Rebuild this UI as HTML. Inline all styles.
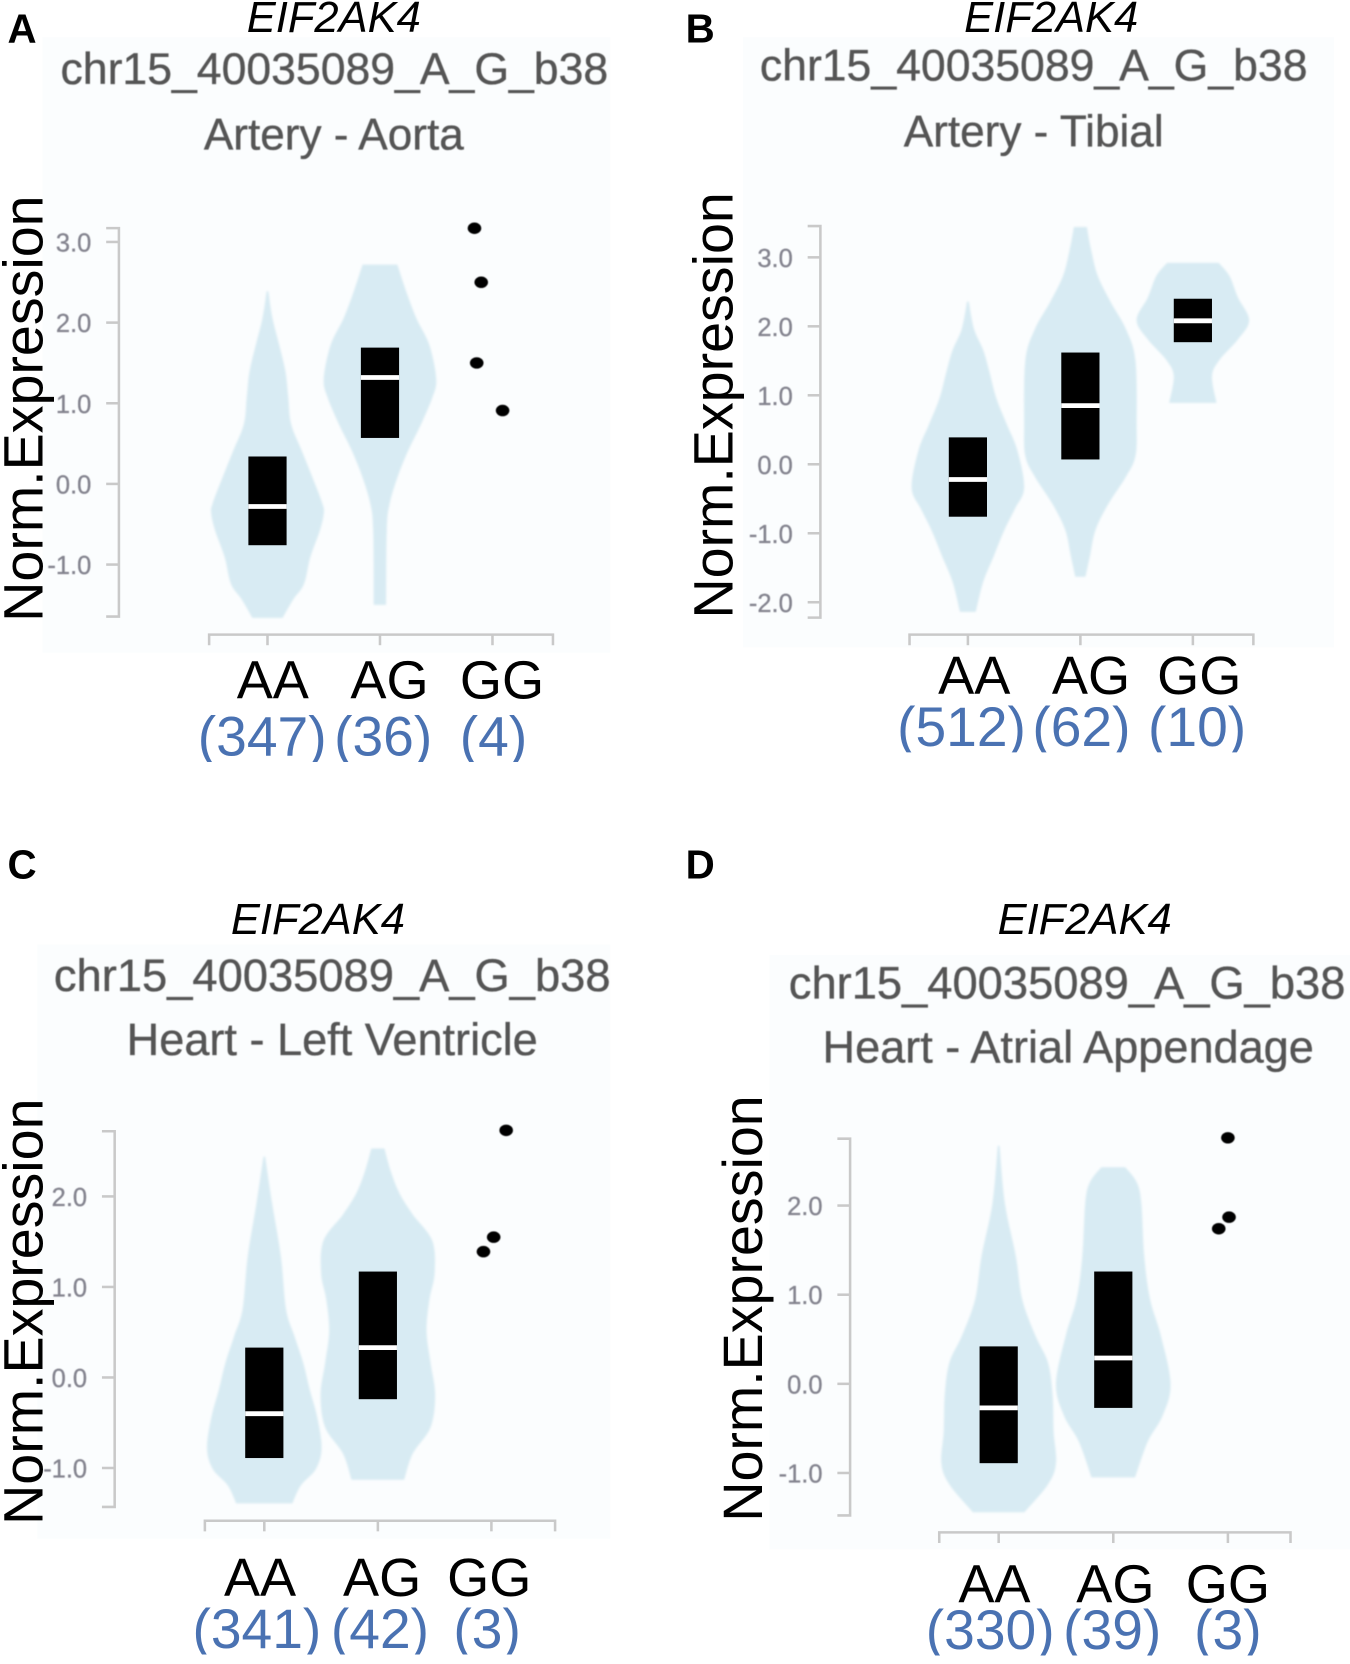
<!DOCTYPE html>
<html lang="en">
<head>
<meta charset="utf-8">
<title>EIF2AK4 expression by genotype</title>
<style>
html,body{margin:0;padding:0;background:#fff;width:1350px;height:1664px;overflow:hidden}
svg{display:block;font-family:"Liberation Sans",Arial,sans-serif}
.gene{font-size:41px;font-style:italic;text-anchor:middle;fill:#000}
.snp{font-size:42px;text-anchor:middle;fill:#555;stroke:#555;stroke-width:.35px;filter:url(#soft)}
.snp.wide{font-size:42.7px}
.tissue{font-size:41.6px;text-anchor:middle;fill:#555;stroke:#555;stroke-width:.35px;filter:url(#soft)}
.tissue.wide{font-size:42.5px}
.letter{font-size:38px;font-weight:bold;fill:#000}
.ylab{font-size:52.4px;text-anchor:middle;fill:#000}
.tick{font-size:24px;text-anchor:end;fill:#84848f;stroke:#84848f;stroke-width:.3px;filter:url(#soft)}
.cat{font-size:51px;text-anchor:middle;fill:#000}
.count{font-size:52px;text-anchor:middle;fill:#4a72b2}
</style>
</head>
<body>
<svg id="figure" xmlns="http://www.w3.org/2000/svg" width="1350" height="1664" viewBox="0 0 1272 1568">
  <defs>
    <filter id="soft" x="-5%" y="-5%" width="110%" height="110%"><feGaussianBlur stdDeviation="0.6"/></filter>
    <filter id="violinSoft" x="-5%" y="-5%" width="110%" height="110%"><feGaussianBlur stdDeviation="0.9"/></filter>
    <filter id="dotSoft" x="-30%" y="-30%" width="160%" height="160%"><feGaussianBlur stdDeviation="0.5"/></filter>
  </defs>
  <rect width="1272" height="1568" fill="#fff"/>

  <g id="panel-a">
    <rect x="40" y="35" width="535" height="580" fill="#fbfdfe"/>
    <text class="letter" x="7" y="40">A</text>
    <text class="gene" x="314.5" y="30">EIF2AK4</text>
    <text class="snp" x="315" y="79">chr15_40035089_A_G_b38</text>
    <text class="tissue" x="314.5" y="141">Artery - Aorta</text>
    <text class="ylab" transform="translate(40 385) rotate(-90)">Norm.Expression</text>
  </g>

  <g id="panel-b">
    <rect x="700" y="35" width="557" height="575" fill="#fbfdfe"/>
    <text class="letter" x="646" y="40">B</text>
    <text class="gene" x="990.5" y="30">EIF2AK4</text>
    <text class="snp" x="974" y="76">chr15_40035089_A_G_b38</text>
    <text class="tissue" x="974" y="138">Artery - Tibial</text>
    <text class="ylab" transform="translate(690 382) rotate(-90)">Norm.Expression</text>
  </g>

  <g id="panel-c">
    <rect x="35" y="890" width="540" height="560" fill="#fbfdfe"/>
    <text class="letter" x="7" y="828">C</text>
    <text class="gene" x="299.5" y="880">EIF2AK4</text>
    <text class="snp wide" x="313" y="934">chr15_40035089_A_G_b38</text>
    <text class="tissue wide" x="313" y="994">Heart - Left Ventricle</text>
    <text class="ylab" transform="translate(40 1236) rotate(-90)">Norm.Expression</text>
  </g>

  <g id="panel-d">
    <rect x="725" y="900" width="547" height="560" fill="#fbfdfe"/>
    <text class="letter" x="646" y="828">D</text>
    <text class="gene" x="1022" y="880">EIF2AK4</text>
    <text class="snp wide" x="1005.5" y="941">chr15_40035089_A_G_b38</text>
    <text class="tissue wide" x="1006.5" y="1001">Heart - Atrial Appendage</text>
    <text class="ylab" transform="translate(718 1233) rotate(-90)">Norm.Expression</text>
  </g>
</svg>

<script>
const categories = ["AA", "AG", "GG"];

/* Panel A: Artery - Aorta */
const aTicks = [3, 2, 1, 0, -1];
const aCounts = ["(347)", "(36)", "(4)"];
const aAAExpr = [2.39, 2.05, 1.72, 1.39, 1.07, 0.74, 0.41, 0.08, -0.25, -0.37, -0.58, -0.91, -1.24, -1.43, -1.66];
const aAADensity = [0.015, 0.09, 0.21, 0.32, 0.37, 0.42, 0.61, 0.80, 0.98, 1, 0.93, 0.76, 0.65, 0.46, 0.27];
const aAGExpr = [2.72, 2.38, 2.05, 1.72, 1.30, 1.07, 0.74, 0.41, 0.08, -0.25, -0.58, -1.5];
const aAGDensity = [0.31, 0.47, 0.65, 0.88, 1, 0.93, 0.73, 0.5, 0.31, 0.17, 0.12, 0.11];
const aQ1 = [-0.76, 0.57];
const aMedian = [-0.28, 1.32];
const aQ3 = [0.34, 1.69];
const aPoints = [3.17, 2.5, 1.5, 0.91];
const aJitter = [-0.16, -0.10, -0.14, 0.09];

/* Panel B: Artery - Tibial */
const bTicks = [3, 2, 1, 0, -1, -2];
const bCounts = ["(512)", "(62)", "(10)"];
const bAAExpr = [2.36, 1.96, 1.66, 1.35, 0.97, 0.58, 0.2, -0.34, -0.64, -0.95, -1.33, -1.71, -2.14];
const bAADensity = [0.015, 0.11, 0.27, 0.38, 0.5, 0.69, 0.88, 1, 0.84, 0.65, 0.46, 0.27, 0.14];
const bAGExpr = [3.44, 3.11, 2.73, 2.35, 1.96, 1.5, 0.58, 0.12, -0.18, -0.57, -0.95, -1.33, -1.63];
const bAGDensity = [0.115, 0.19, 0.31, 0.54, 0.81, 0.98, 1, 0.98, 0.81, 0.5, 0.27, 0.17, 0.09];
const bGGExpr = [2.92, 2.73, 2.42, 2.09, 1.81, 1.5, 1.27, 0.89];
const bGGDensity = [0.46, 0.65, 0.8, 1, 0.8, 0.46, 0.34, 0.42];
const bQ1 = [-0.76, 0.07, 1.77];
const bMedian = [-0.22, 0.85, 2.08];
const bQ3 = [0.39, 1.62, 2.4];

/* Panel C: Heart - Left Ventricle */
const cTicks = [2, 1, 0, -1];
const cCounts = ["(341)", "(42)", "(3)"];
const cAAExpr = [2.44, 1.93, 1.33, 0.75, 0.45, 0.16, -0.13, -0.43, -0.78, -1.01, -1.19, -1.39];
const cAADensity = [0.015, 0.135, 0.29, 0.38, 0.53, 0.68, 0.79, 0.92, 1, 0.9, 0.64, 0.49];
const cAGExpr = [2.53, 2.27, 2.03, 1.8, 1.51, 1.15, 0.86, 0.51, 0.16, -0.19, -0.55, -0.84, -1.13];
const cAGDensity = [0.115, 0.23, 0.38, 0.61, 0.95, 0.99, 0.9, 0.85, 0.92, 1, 0.92, 0.61, 0.46];
const cQ1 = [-0.89, -0.24];
const cMedian = [-0.4, 0.33];
const cQ3 = [0.33, 1.17];
const cPoints = [2.73, 1.55, 1.39];
const cJitter = [0.13, 0.02, -0.07];

/* Panel D: Heart - Atrial Appendage */
const dTicks = [2, 1, 0, -1];
const dCounts = ["(330)", "(39)", "(3)"];
const dAAExpr = [2.67, 2.02, 1.43, 0.95, 0.54, 0.24, -0.12, -0.54, -0.89, -1.13, -1.44];
const dAADensity = [0.015, 0.11, 0.3, 0.41, 0.64, 0.86, 0.94, 0.96, 1, 0.86, 0.45];
const dAGExpr = [2.43, 2.26, 2.02, 1.43, 0.95, 0.54, 0, -0.36, -0.65, -1.05];
const dAGDensity = [0.21, 0.41, 0.49, 0.54, 0.64, 0.83, 1, 0.86, 0.6, 0.38];
const dQ1 = [-0.89, -0.27];
const dMedian = [-0.27, 0.29];
const dQ3 = [0.42, 1.26];
const dPoints = [2.76, 1.87, 1.74];
const dJitter = [0, 0.01, -0.08];

const NS = "http://www.w3.org/2000/svg";
const AXIS = "#c9c9c9";
const VIOLIN = "#d8ebf3";

function mk(tag, attrs, parent) {
  const el = document.createElementNS(NS, tag);
  for (const k in attrs) el.setAttribute(k, attrs[k]);
  parent.appendChild(el);
  return el;
}

/* Smooth curve through a list of [x, y] pairs (Catmull-Rom to Bezier). */
function smoothSegment(p) {
  let d = "";
  for (let i = 0; i < p.length - 1; i++) {
    const a = p[Math.max(i - 1, 0)], b = p[i], c = p[i + 1], e = p[Math.min(i + 2, p.length - 1)];
    const c1x = b[0] + (c[0] - a[0]) / 6, c1y = b[1] + (c[1] - a[1]) / 6;
    const c2x = c[0] - (e[0] - b[0]) / 6, c2y = c[1] - (e[1] - b[1]) / 6;
    d += "C" + c1x.toFixed(1) + " " + c1y.toFixed(1) + " " + c2x.toFixed(1) + " " + c2y.toFixed(1) + " " + c[0].toFixed(1) + " " + c[1].toFixed(1);
  }
  return d;
}

function drawPanel(cfg) {
  const g = document.getElementById("panel-" + cfg.id);
  const y = v => cfg.y0 - v * cfg.unit;
  const x = i => cfg.x0 + i * cfg.step;

  const yAxis = mk("path", {
    d: "M" + (cfg.axisX - 12) + " " + cfg.axisTop + "H" + cfg.axisX + "V" + cfg.axisBottom + "H" + (cfg.axisX - 12),
    fill: "none", stroke: AXIS, "stroke-width": 2.4
  }, g);
  
  

  cfg.ticks.forEach(t => {
    const tm = mk("line", { x1: cfg.axisX - 12, x2: cfg.axisX, y1: y(t), y2: y(t), stroke: AXIS, "stroke-width": 2.4 }, g);
    
    
    const lb = mk("text", { class: "tick", x: cfg.axisX - 26, y: y(t) + 9 }, g);
    
    
    lb.textContent = t.toFixed(1);
  });

  const xAxis = mk("path", {
    d: "M" + cfg.xStart + " " + (cfg.xAxisY + 10) + "V" + cfg.xAxisY + "H" + cfg.xEnd + "V" + (cfg.xAxisY + 10),
    fill: "none", stroke: AXIS, "stroke-width": 2.4
  }, g);
  
  

  const clipId = "clip-" + cfg.id;
  const clip = mk("clipPath", { id: clipId }, g);
  mk("rect", { x: 0, y: cfg.countBase - 90, width: 1272, height: 96 }, clip);

  categories.forEach((c, i) => {
    const tm = mk("line", { x1: x(i), x2: x(i), y1: cfg.xAxisY, y2: cfg.xAxisY + 10, stroke: AXIS, "stroke-width": 2.4 }, g);
    
    
    const lb = mk("text", { class: "cat", x: x(i) + cfg.catOffset[i], y: cfg.catBase }, g);
    
    
    lb.textContent = c;
    const ct = mk("text", { class: "count", x: x(i) + cfg.countOffset[i], y: cfg.countBase, "clip-path": "url(#" + clipId + ")" }, g);
    
    
    ct.textContent = cfg.counts[i];
  });

  cfg.violins.forEach(vi => {
    const cx = x(vi.cat);
    const right = vi.expr.map((v, k) => [cx + vi.density[k] * cfg.halfWidth, y(v)]);
    const left = vi.expr.map((v, k) => [cx - vi.density[k] * cfg.halfWidth, y(v)]).reverse();
    const d = "M" + right[0][0].toFixed(1) + " " + right[0][1].toFixed(1) + smoothSegment(right) +
      "L" + left[0][0].toFixed(1) + " " + left[0][1].toFixed(1) + smoothSegment(left) + "Z";
    const shape = mk("path", { d: d, fill: VIOLIN, filter: "url(#violinSoft)" }, g);
    
    
  });

  cfg.q1.forEach((q, i) => {
    const box = mk("rect", { x: x(i) - 18, y: y(cfg.q3[i]), width: 36, height: y(q) - y(cfg.q3[i]), fill: "#000" }, g);
    
    
    const med = mk("line", { x1: x(i) - 18, x2: x(i) + 18, y1: y(cfg.median[i]), y2: y(cfg.median[i]), stroke: "#fff", "stroke-width": 4.5 }, g);
    
    
  });

  cfg.points.forEach((p, i) => {
    const dot = mk("ellipse", { cx: x(2) + cfg.jitter[i] * cfg.step, cy: y(p), rx: 6.4, ry: 5.4, fill: "#000", filter: "url(#dotSoft)" }, g);
    
    
  });
}

drawPanel({
  id: "a", y0: 456, unit: 76, x0: 252, step: 106, halfWidth: 53,
  axisX: 112, axisTop: 215, axisBottom: 581, xAxisY: 598, xStart: 197, xEnd: 521,
  catBase: 658, countBase: 712, catOffset: [5, 9, 9], countOffset: [-5, 3, 1],
  ticks: aTicks, counts: aCounts,
  violins: [{ cat: 0, expr: aAAExpr, density: aAADensity }, { cat: 1, expr: aAGExpr, density: aAGDensity }],
  q1: aQ1, median: aMedian, q3: aQ3, points: aPoints, jitter: aJitter
});
drawPanel({
  id: "b", y0: 437.5, unit: 65, x0: 912, step: 106, halfWidth: 53,
  axisX: 773, axisTop: 213, axisBottom: 582, xAxisY: 598, xStart: 857, xEnd: 1181,
  catBase: 654, countBase: 703, catOffset: [6, 10, 6], countOffset: [-6, 1, 4],
  ticks: bTicks, counts: bCounts,
  violins: [{ cat: 0, expr: bAAExpr, density: bAADensity }, { cat: 1, expr: bAGExpr, density: bAGDensity }, { cat: 2, expr: bGGExpr, density: bGGDensity }],
  q1: bQ1, median: bMedian, q3: bQ3, points: [], jitter: []
});
drawPanel({
  id: "c", y0: 1298, unit: 85.3, x0: 249, step: 107, halfWidth: 54,
  axisX: 108, axisTop: 1066, axisBottom: 1420, xAxisY: 1433, xStart: 193, xEnd: 523,
  catBase: 1504, countBase: 1553, catOffset: [-4, 4, -2], countOffset: [-7, 2, -4],
  ticks: cTicks, counts: cCounts,
  violins: [{ cat: 0, expr: cAAExpr, density: cAADensity }, { cat: 1, expr: cAGExpr, density: cAGDensity }],
  q1: cQ1, median: cMedian, q3: cQ3, points: cPoints, jitter: cJitter
});
drawPanel({
  id: "d", y0: 1304, unit: 84, x0: 941, step: 108, halfWidth: 54,
  axisX: 801, axisTop: 1073, axisBottom: 1428, xAxisY: 1444, xStart: 885, xEnd: 1216,
  catBase: 1510, countBase: 1554, catOffset: [-4, 2, 0], countOffset: [-8, -1, 0],
  ticks: dTicks, counts: dCounts,
  violins: [{ cat: 0, expr: dAAExpr, density: dAADensity }, { cat: 1, expr: dAGExpr, density: dAGDensity }],
  q1: dQ1, median: dMedian, q3: dQ3, points: dPoints, jitter: dJitter
});
</script>
</body>
</html>
